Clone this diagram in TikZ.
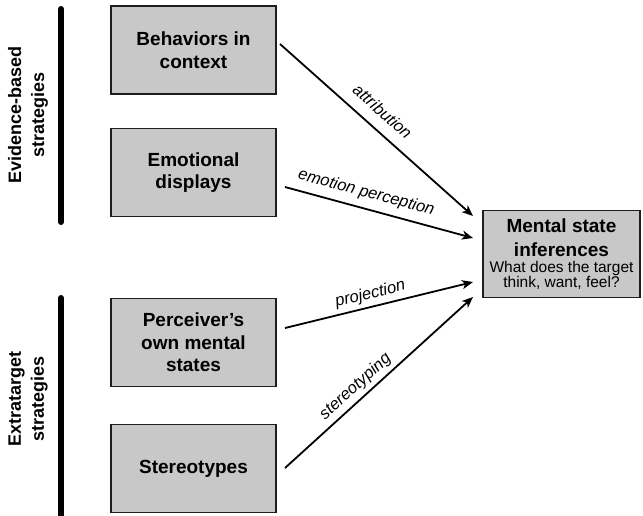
\documentclass[tikz,border=0pt]{standalone}
\usepackage{fontspec}
\setmainfont{Liberation Sans}
\usetikzlibrary{arrows.meta}
\definecolor{boxgray}{RGB}{200,200,200}
\definecolor{edgegray}{RGB}{30,30,30}
\newcommand{\headfont}{\bfseries\fontsize{19}{16}\selectfont}
\newcommand{\subfont}{\mdseries\fontsize{15.5}{16}\selectfont}
\begin{document}
\begin{tikzpicture}[x=1pt,y=-1pt,
  srcbox/.style={draw=edgegray,line width=1.6pt,fill=boxgray,minimum width=165pt,
    minimum height=88pt,align=center,font=\bfseries\fontsize{19}{22.5}\selectfont,inner sep=0pt},
  tgtbox/.style={draw=edgegray,line width=1.6pt,fill=boxgray,minimum width=157pt,
    minimum height=87pt,align=center,inner sep=0pt},
  bar/.style={line width=6pt,line cap=round},
  grouplabel/.style={rotate=90,align=center,font=\bfseries\fontsize{18}{23}\selectfont},
  link/.style={line width=1.8pt,-{Stealth[length=11pt,width=9pt,inset=3pt]}},
  lbl/.style={sloped,anchor=south,font=\itshape\fontsize{16.5}{18}\selectfont,inner sep=3pt}]
\useasboundingbox (0,0) rectangle (643,515);

% strategy boxes
\node[srcbox] (beh) at (193.5,50) {Behaviors in\\context};
\node[srcbox] (emo) at (193.5,172.5) {Emotional\\displays};
\node[srcbox] (own) at (193.5,342.5) {Perceiver’s\\own mental\\states};
\node[srcbox] (ste) at (193.5,468.5) {Stereotypes};

% target box
\node[tgtbox] (msi) at (561.5,254) {\headfont Mental state\\[9pt]\headfont inferences\\[4pt]
  \subfont What does the target\\\subfont think, want, feel?};

% group bars and labels
\coordinate (b1t) at (61,9);
\coordinate (b1b) at (61,222);
\coordinate (b2t) at (61,298);
\coordinate (b2b) at (61,520);
\draw[bar] (b1t) -- (b1b);
\draw[bar] (b2t) -- (b2b);
\node[grouplabel] (evid) at (28,115) {Evidence-based\\strategies};
\node[grouplabel] (extra) at (28,399) {Extratarget\\strategies};

% arrow anchor points
\coordinate (s1) at (280,44);
\coordinate (s2) at (285,187);
\coordinate (s3) at (285,328);
\coordinate (s4) at (285,468);
\coordinate (e1) at (473,216);
\coordinate (e2) at (473,238);
\coordinate (e3) at (473,282);
\coordinate (e4) at (473,297);

\draw[link] (s1) -- node[lbl,pos=0.47,yshift=8pt] {attribution} (e1);
\draw[link] (s2) -- node[lbl,pos=0.41,yshift=4pt] {emotion perception} (e2);
\draw[link] (s3) -- node[lbl,pos=0.47,yshift=1pt] {projection} (e3);
\draw[link] (s4) -- node[lbl,pos=0.42,yshift=1pt] {stereotyping} (e4);
\end{tikzpicture}
\end{document}
